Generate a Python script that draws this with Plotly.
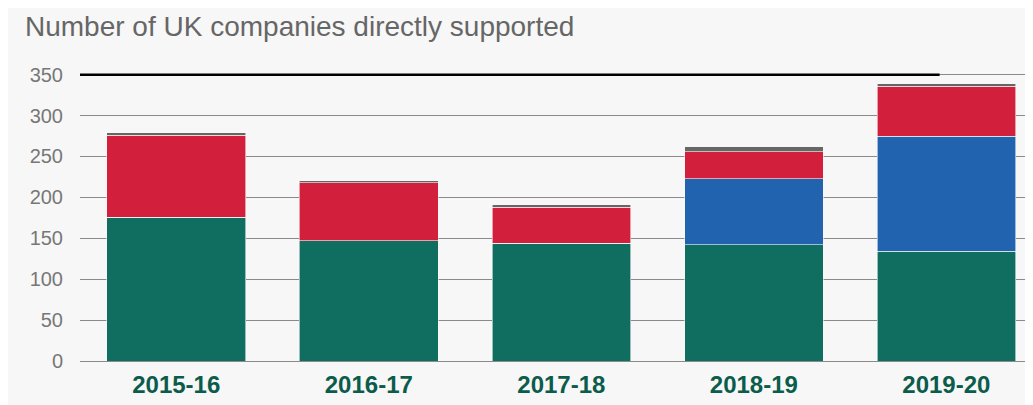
import plotly.graph_objects as go

# data
anos = ["2015-16", "2016-17", "2017-18", "2018-19", "2019-20"]
verde = [176, 147, 144, 142, 134]
azul = [0, 0, 0, 81, 141]
vermelho = [100, 71, 44, 33, 61]
cinza = [3, 2.5, 3, 6, 3]

cores = {"verde": "#106e60", "azul": "#2263b0", "vermelho": "#d21f3c", "cinza": "#666666"}

fig = go.Figure()
for nome, valores in [("verde", verde), ("azul", azul), ("vermelho", vermelho), ("cinza", cinza)]:
    fig.add_trace(go.Bar(
        x=anos, y=valores, name=nome,
        marker=dict(color=cores[nome], line=dict(color="#f7f7f7", width=0.6)),
        hoverinfo="y",
    ))

# black reference line at the top of the axis
fig.add_shape(type="line", xref="paper", yref="y", x0=0, x1=0.902, y0=350, y1=350,
              line=dict(color="black", width=2.5))

# page body has an 8px margin, so the figure is shifted by that amount
fig.update_layout(
    width=1033, height=405,
    barmode="stack", bargap=0.28,
    showlegend=False,
    paper_bgcolor="#f7f7f7", plot_bgcolor="#f7f7f7",
    margin=dict(l=72, r=8, t=65, b=52),
    font=dict(family="Liberation Sans, Arial, sans-serif"),
    title=dict(text="Number of UK companies directly supported",
               x=17 / 1033, xanchor="left", xref="container",
               y=1 - 18 / 405, yanchor="middle", yref="container",
               font=dict(size=28, color="#666666")),
)
fig.update_xaxes(
    range=[-0.5, 4.45], showgrid=False, showline=False, ticks="",
    tickfont=dict(size=24, color="#0b5c4b", weight="bold"),
    ticklabelstandoff=7,
)
fig.update_yaxes(
    range=[0, 352], tickvals=[0, 50, 100, 150, 200, 250, 300, 350],
    showgrid=True, gridcolor="#8a8a8a", gridwidth=1,
    zeroline=True, zerolinecolor="#8a8a8a", zerolinewidth=1,
    showline=False, ticks="",
    tickfont=dict(size=20, color="#777777"),
    ticklabelstandoff=16,
)

fig.write_html("out.html")
